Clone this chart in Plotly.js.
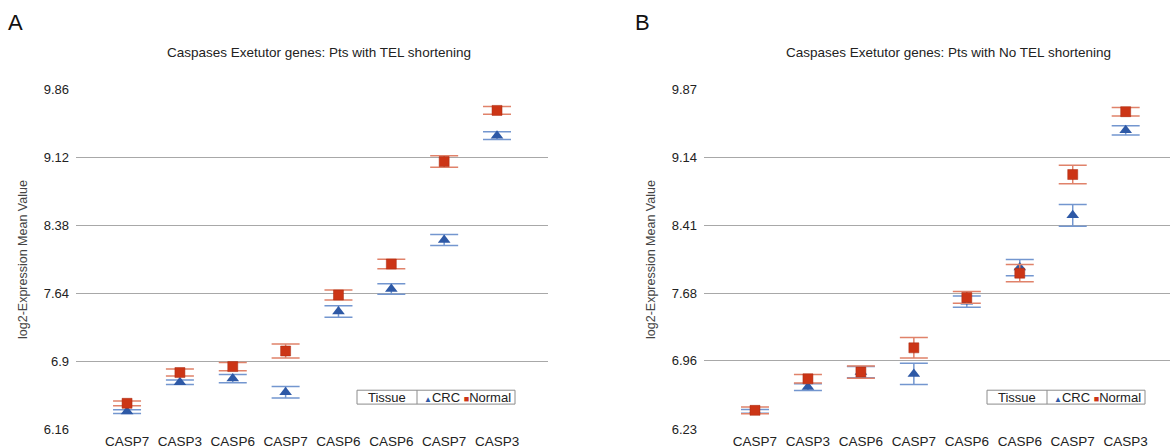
<!DOCTYPE html>
<html>
<head>
<meta charset="utf-8">
<script src="https://cdn.plot.ly/plotly-3.0.1.min.js"></script>
<style>html,body{margin:0;padding:0;background:#fff;}#chart{width:1170px;height:448px;}</style>
</head>
<body>
<div id="chart"></div>
<script>
// Category labels (duplicated gene names along the axis)
const genes = ["CASP7","CASP3","CASP6","CASP7","CASP6","CASP6","CASP7","CASP3"];
const positions = [0,1,2,3,4,5,6,7];

// Panel A: Pts with TEL shortening
const aCRC      = [6.35, 6.67, 6.71, 6.56, 7.44, 7.685, 8.22, 9.355];
const aCRCerr   = [0.02, 0.025, 0.045, 0.062, 0.063, 0.056, 0.06, 0.043];
const aNormal   = [6.44, 6.775, 6.84, 7.01, 7.62, 7.957, 9.073, 9.63];
const aNormalErr= [0.025, 0.038, 0.045, 0.076, 0.054, 0.051, 0.063, 0.043];
const aTicks    = [6.16, 6.9, 7.64, 8.38, 9.12, 9.86];
const aTickText = ["6.16", "6.9", "7.64", "8.38", "9.12", "9.86"];

// Panel B: Pts with No TEL shortening
const bCRC      = [6.42, 6.68, 6.84, 6.82, 7.595, 7.96, 8.52, 9.43];
const bCRCerr   = [0.02, 0.036, 0.06, 0.114, 0.06, 0.087, 0.116, 0.05];
const bNormal   = [6.43, 6.768, 6.84, 7.10, 7.64, 7.90, 8.957, 9.63];
const bNormalErr= [0.035, 0.046, 0.066, 0.11, 0.063, 0.093, 0.10, 0.045];
const bTicks    = [6.23, 6.96, 7.68, 8.41, 9.14, 9.87];
const bTickText = ["6.23", "6.96", "7.68", "8.41", "9.14", "9.87"];

const titles = ["Caspases Exetutor genes: Pts with TEL shortening",
                "Caspases Exetutor genes: Pts with No TEL shortening"];
const yTitle = "log2-Expression Mean Value";
const seriesNames = ["CRC", "Normal"];
const legendTitle = "Tissue";

const BLUE = "#2e59a6", BLUE_ERR = "#7396cf";
const RED = "#cc3516", RED_ERR = "#e0826a";
const FONT = "Liberation Sans, Arial, sans-serif";

function crc(y, err, xa, ya) {
  return {x: positions, y: y, xaxis: xa, yaxis: ya, type: "scatter", mode: "markers",
    name: seriesNames[0], showlegend: false,
    marker: {symbol: "triangle-up", size: 11, color: BLUE, line: {width: 0}},
    error_y: {type: "data", array: err, visible: true, color: BLUE_ERR, thickness: 1.5, width: 14}};
}
function normal(y, err, xa, ya) {
  return {x: positions, y: y, xaxis: xa, yaxis: ya, type: "scatter", mode: "markers",
    name: seriesNames[1], showlegend: false,
    marker: {symbol: "square", size: 10, color: RED, line: {width: 0.5, color: "#a82a10"}},
    error_y: {type: "data", array: err, visible: true, color: RED_ERR, thickness: 1.5, width: 14}};
}

const data = [
  crc(aCRC, aCRCerr, "x", "y"),
  normal(aNormal, aNormalErr, "x", "y"),
  crc(bCRC, bCRCerr, "x2", "y2"),
  normal(bNormal, bNormalErr, "x2", "y2")
];

const yDom = [0.0417, 0.8013];
function xaxis(dom, rng) {
  return {domain: dom, range: rng, tickvals: positions, ticktext: genes, showgrid: false,
    zeroline: false, showline: false, ticks: "", tickfont: {size: 13.5, color: "#222", family: FONT},
    ticklabelstandoff: 2, fixedrange: true};
}
function yaxis(anchor, vals, text, rng) {
  return {domain: yDom, anchor: anchor, range: rng, tickvals: vals, ticktext: text,
    showgrid: true, gridcolor: "#a8a8a8", gridwidth: 1, zeroline: false, showline: false,
    ticks: "", ticklabelstandoff: 6, tickfont: {size: 13, color: "#222", family: FONT}, fixedrange: true};
}

function legendBox(x0) {
  // custom boxed legend: "Tissue | ▲CRC ■Normal"
  const y0 = 0.098, y1 = 0.129;
  const w = 158, sep = 60;
  const px = v => v / 1170;
  return {
    shapes: [
      {type: "rect", xref: "paper", yref: "paper", x0: px(x0), x1: px(x0 + w), y0: y0, y1: y1,
       line: {color: "#8c8c8c", width: 1}, fillcolor: "#fff"},
      {type: "line", xref: "paper", yref: "paper", x0: px(x0 + sep), x1: px(x0 + sep), y0: y0, y1: y1,
       line: {color: "#8c8c8c", width: 1}}
    ],
    annotations: [
      {xref: "paper", yref: "paper", x: px(x0 + sep / 2), y: (y0 + y1) / 2, text: legendTitle,
       showarrow: false, xanchor: "center", yanchor: "middle", font: {size: 13, color: "#222", family: FONT}},
      {xref: "paper", yref: "paper", x: px(x0 + sep + 5), y: (y0 + y1) / 2,
       text: "<span style='color:" + BLUE + ";font-size:8px'>▲</span>" + seriesNames[0] +
             " <span style='color:" + RED + ";font-size:9px'>■</span>" + seriesNames[1],
       showarrow: false, xanchor: "left", yanchor: "middle", font: {size: 13, color: "#222", family: FONT}}
    ]
  };
}

const legA = legendBox(357);
const legB = legendBox(987);

const layout = {
  width: 1170, height: 448,
  margin: {l: 0, r: 0, t: 0, b: 0},
  paper_bgcolor: "#fff", plot_bgcolor: "#fff",
  font: {family: FONT},
  showlegend: false,
  xaxis: xaxis([0.065, 0.4684], [-0.965, 7.965]),
  yaxis: yaxis("x", aTicks, aTickText, [6.157, 9.863]),
  xaxis2: xaxis([0.6017, 1.0], [-0.963, 7.837]),
  yaxis2: yaxis("x2", bTicks, bTickText, [6.227, 9.873]),
  shapes: [].concat(legA.shapes, legB.shapes),
  annotations: [
    {xref: "paper", yref: "paper", x: 15 / 1170, y: 1 - 22 / 448, text: "A", showarrow: false,
     xanchor: "center", yanchor: "middle", font: {size: 22, color: "#111", family: FONT}},
    {xref: "paper", yref: "paper", x: 642 / 1170, y: 1 - 22 / 448, text: "B", showarrow: false,
     xanchor: "center", yanchor: "middle", font: {size: 22, color: "#111", family: FONT}},
    {xref: "paper", yref: "paper", x: 319 / 1170, y: 1 - 53 / 448, text: titles[0], showarrow: false,
     xanchor: "center", yanchor: "middle", font: {size: 13.5, color: "#222", family: FONT}},
    {xref: "paper", yref: "paper", x: 948 / 1170, y: 1 - 53 / 448, text: titles[1], showarrow: false,
     xanchor: "center", yanchor: "middle", font: {size: 13.5, color: "#222", family: FONT}},
    {xref: "paper", yref: "paper", x: 23 / 1170, y: 1 - 260 / 448, text: yTitle, showarrow: false, textangle: -90,
     xanchor: "center", yanchor: "middle", font: {size: 12.5, color: "#444", family: FONT}},
    {xref: "paper", yref: "paper", x: 651 / 1170, y: 1 - 260 / 448, text: yTitle, showarrow: false, textangle: -90,
     xanchor: "center", yanchor: "middle", font: {size: 12.5, color: "#444", family: FONT}}
  ].concat(legA.annotations, legB.annotations)
};

Plotly.newPlot("chart", data, layout, {staticPlot: true, displayModeBar: false});
</script>
</body>
</html>
